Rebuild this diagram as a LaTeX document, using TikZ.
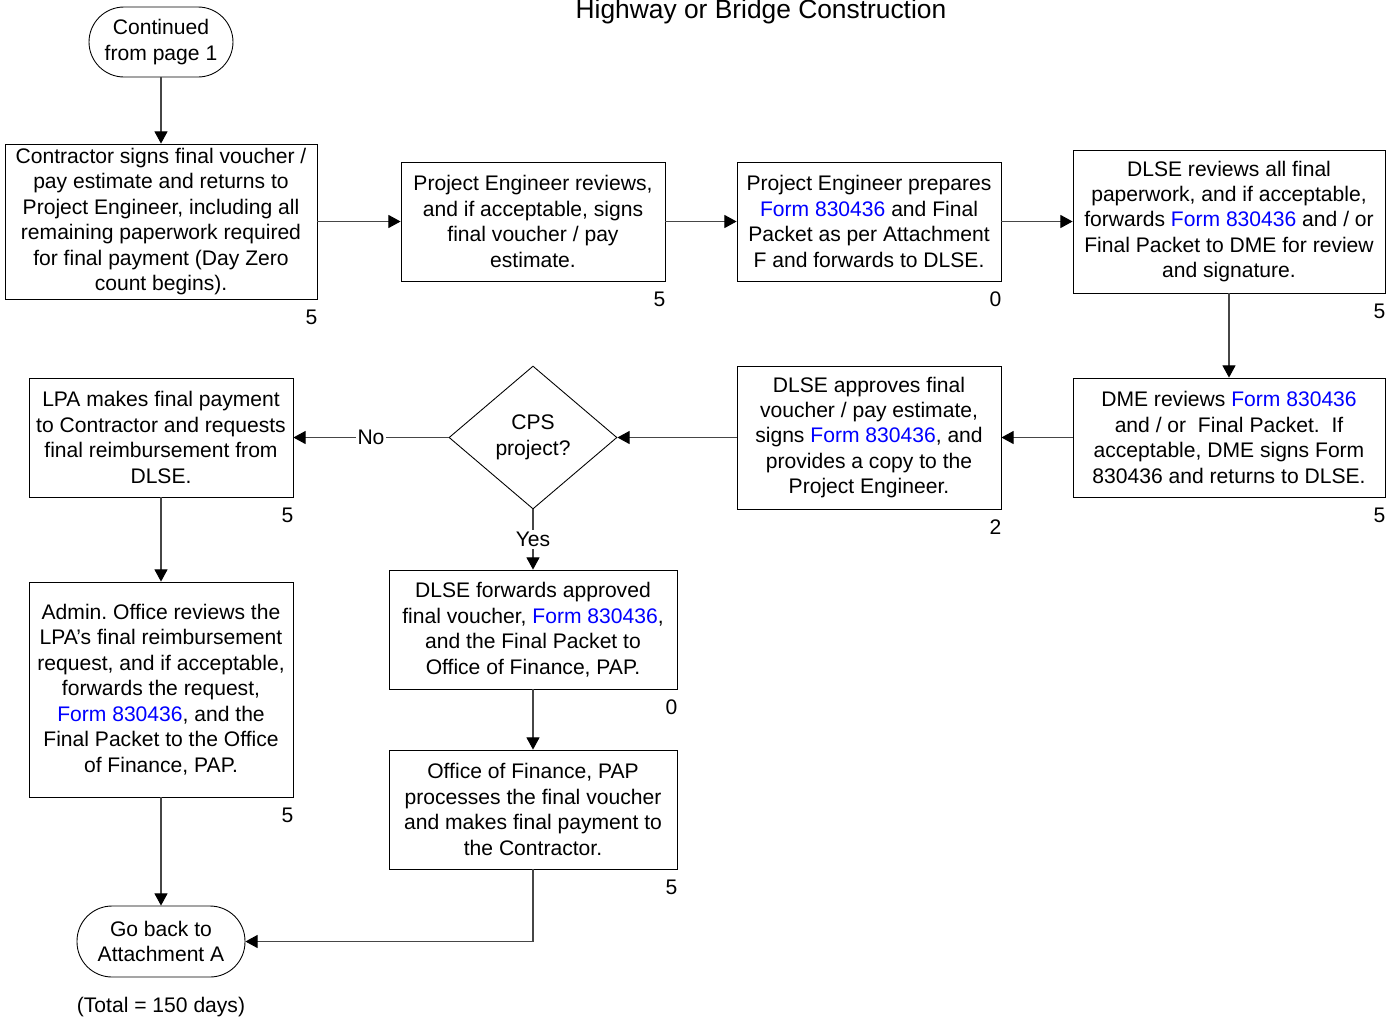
\documentclass[tikz,border=0pt]{standalone}
\usepackage{fontspec}
\setmainfont{Liberation Sans}
\usetikzlibrary{shapes.geometric, arrows.meta, calc}
\definecolor{linkColor}{RGB}{0,0,255}
\definecolor{lineColor}{RGB}{70,70,70}
\tikzstyle{chart} = [x = 0.02cm, y = -0.02cm]
\tikzstyle{boxText} = [font=\fontsize{12}{14.5}\selectfont, align=center, inner sep=0pt]
\tikzstyle{stepBox} = [boxText, draw, rectangle, line width=0.5pt]
\tikzstyle{terminalStyle} = [boxText, draw, rectangle, rounded corners=0.7cm, line width=0.5pt]
\tikzstyle{decisionStyle} = [boxText, draw, diamond, line width=0.5pt, minimum width=3.36cm, minimum height=2.86cm]
\tikzstyle{countText} = [font=\fontsize{12}{14.5}\selectfont, inner sep=0pt]
\tikzstyle{flowArrow} = [draw=lineColor, line width=0.6pt, -{Triangle[length=7pt, width=7.5pt, color=black]}]
\tikzstyle{flowLabel} = [font=\fontsize{12}{14.5}\selectfont, fill=white, inner sep=1pt, midway]
\newcommand{\formLink}{\textcolor{linkColor}{Form 830436}}
\newcommand{\dayCount}[3]{\node (#1) at ($(#2.south east) + (-6,18)$) [countText] {#3};}
\begin{document}
\begin{tikzpicture}[chart]
  \useasboundingbox (0,0) rectangle (1393,1022);
  \node (title) at (761,12) [font=\fontsize{15}{18}\selectfont] {Highway or Bridge Construction};

  % top row
  \node (start) at (161,42) [terminalStyle, minimum width=2.88cm, minimum height=1.4cm] {Continued\\from page 1};
  \node (sign) at (161,221.5) [stepBox, minimum width=6.24cm, minimum height=3.1cm]
    {Contractor signs final voucher /\\pay estimate and returns to\\Project Engineer, including all\\remaining paperwork required\\for final payment (Day Zero\\count begins).};
  \node (review) at (533,221.5) [stepBox, minimum width=5.28cm, minimum height=2.38cm]
    {Project Engineer reviews,\\and if acceptable, signs\\final voucher / pay\\estimate.};
  \node (prepare) at (869,221.5) [stepBox, minimum width=5.28cm, minimum height=2.38cm]
    {Project Engineer prepares\\\formLink{} and Final\\Packet as per Attachment\\F and forwards to DLSE.};
  \node (dlseReview) at (1229,221.5) [stepBox, minimum width=6.24cm, minimum height=2.86cm]
    {DLSE reviews all final\\paperwork, and if acceptable,\\forwards \formLink{} and / or\\Final Packet to DME for review\\and signature.};

  % middle row
  \node (dmeReview) at (1229,437.5) [stepBox, minimum width=6.24cm, minimum height=2.38cm]
    {DME reviews \formLink{}\\and / or\ \ Final Packet.\ \ If\\acceptable, DME signs Form\\830436 and returns to DLSE.};
  \node (approve) at (869,437.5) [stepBox, minimum width=5.28cm, minimum height=2.86cm]
    {DLSE approves final\\voucher / pay estimate,\\signs \formLink{}, and\\provides a copy to the\\Project Engineer.};
  \node (cps) at (533,437.5) [decisionStyle] {CPS\\project?};
  \node (lpaPay) at (161,437.5) [stepBox, minimum width=5.28cm, minimum height=2.38cm]
    {LPA makes final payment\\to Contractor and requests\\final reimbursement from\\DLSE.};

  % lower part
  \node (admin) at (161,689.5) [stepBox, minimum width=5.28cm, minimum height=4.3cm]
    {Admin.\ Office reviews the\\LPA’s final reimbursement\\request, and if acceptable,\\forwards the request,\\\formLink{}, and the\\Final Packet to the Office\\of Finance, PAP.};
  \node (forward) at (533,629.5) [stepBox, minimum width=5.76cm, minimum height=2.38cm]
    {DLSE forwards approved\\final voucher, \formLink{},\\and the Final Packet to\\Office of Finance, PAP.};
  \node (finance) at (533,809.5) [stepBox, minimum width=5.76cm, minimum height=2.38cm]
    {Office of Finance, PAP\\processes the final voucher\\and makes final payment to\\the Contractor.};
  \node (back) at (161,941.5) [terminalStyle, minimum width=3.36cm, minimum height=1.42cm] {Go back to\\Attachment A};
  \node (total) at (161,1007) [countText] {(Total = 150 days)};

  % day counts
  \dayCount{signDays}{sign}{5}
  \dayCount{reviewDays}{review}{5}
  \dayCount{prepareDays}{prepare}{0}
  \dayCount{dlseReviewDays}{dlseReview}{5}
  \dayCount{dmeReviewDays}{dmeReview}{5}
  \dayCount{approveDays}{approve}{2}
  \dayCount{lpaPayDays}{lpaPay}{5}
  \dayCount{adminDays}{admin}{5}
  \dayCount{forwardDays}{forward}{0}
  \dayCount{financeDays}{finance}{5}

  % connectors
  \draw [flowArrow] (start) -- (sign);
  \draw [flowArrow] (sign) -- (review);
  \draw [flowArrow] (review) -- (prepare);
  \draw [flowArrow] (prepare) -- (prepare -| dlseReview.west);
  \draw [flowArrow] (dlseReview) -- (dmeReview);
  \draw [flowArrow] (dmeReview) -- (approve);
  \draw [flowArrow] (approve) -- (cps);
  \draw [flowArrow] (cps) -- node [flowLabel] {No} (lpaPay);
  \draw [flowArrow] (cps) -- node [flowLabel] {Yes} (forward);
  \draw [flowArrow] (lpaPay) -- (admin);
  \draw [flowArrow] (admin) -- (back);
  \draw [flowArrow] (forward) -- (finance);
  \draw [flowArrow] (finance.south) |- (back.east);
\end{tikzpicture}
\end{document}
